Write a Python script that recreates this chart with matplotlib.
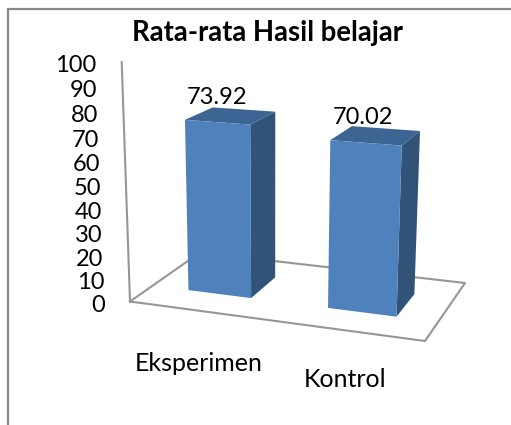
import numpy as np
import matplotlib
matplotlib.use("Agg")
import matplotlib.pyplot as plt
from matplotlib.patches import Polygon

plt.rcParams['font.family'] = ['Lato', 'DejaVu Sans']

categories = ["Eksperimen", "Kontrol"]
values = [73.92, 70.02]
value_labels = ["73.92", "70.02"]
ticks = [0, 10, 20, 30, 40, 50, 60, 70, 80, 90, 100]
title = "Rata-rata Hasil belajar"

W, H = 511, 425

## floor corners in pixels: front-left, front-right, back-right, back-left
floor_px = [(130, 301.5), (425, 341), (465, 283), (200, 252.5)]
floor_uv = [(0, 0), (2, 0), (2, 1), (0, 1)]
wall_top = (120.5, 62)
vanish = (272, 4400)

## floor homography
A = []
b = []
for (x, y), (u, v) in zip(floor_px, floor_uv):
    A.append([u, v, 1, 0, 0, 0, -u * x, -v * x])
    A.append([0, 0, 0, u, v, 1, -u * y, -v * y])
    b += [x, y]
h = np.linalg.solve(np.array(A, float), np.array(b, float))
M = np.array([[h[0], h[1], h[2]], [h[3], h[4], h[5]], [h[6], h[7], 1.0]])

## height term, scaled so that value 100 lands on the top of the wall
vp = np.array([vanish[0], vanish[1], 1.0])
c = (wall_top[1] - floor_px[0][1]) / (100 * (vp[1] - wall_top[1]))


def project(u, v, val=0):
    p = M @ np.array([u, v, 1.0]) + val * c * vp
    return p[0] / p[2], p[1] / p[2]


fig = plt.figure(figsize=(W / 100, H / 100), dpi=100)
ax = fig.add_axes([0, 0, 1, 1])
ax.set_xlim(0, W)
ax.set_ylim(H, 0)
ax.axis("off")

## chart frame, open on the right
ax.plot([8, 8, W], [H, 9, 9], color="#868686", lw=1.6, solid_joinstyle="miter")

## floor and wall lines
line_color = "#969696"
floor_loop = [project(u, v) for u, v in floor_uv] + [project(0, 0)]
ax.plot(*zip(*floor_loop), color=line_color, lw=1.5, zorder=1)
ax.plot(*zip(project(0, 0), project(0, 0, 100)), color=line_color, lw=1.5, zorder=1)

for t in ticks:
    x, y = project(0, 0, t)
    ax.text(x - 25, y + 3.5, str(t), ha="right", va="center", fontsize=17, color="black")

## bars
bar_w = 0.46
v0, v1 = 0.3, 0.7
front_c, side_c, top_c = "#4F81BD", "#315378", "#3D6594"
for i, val in enumerate(values):
    u0 = i + 0.5 - bar_w / 2
    u1 = i + 0.5 + bar_w / 2
    front = [project(u0, v0), project(u1, v0), project(u1, v0, val), project(u0, v0, val)]
    side = [project(u1, v0), project(u1, v1), project(u1, v1, val), project(u1, v0, val)]
    top = [project(u0, v0, val), project(u1, v0, val), project(u1, v1, val), project(u0, v1, val)]
    ax.add_patch(Polygon(side, closed=True, fc=side_c, ec="none", zorder=3))
    ax.add_patch(Polygon(top, closed=True, fc=top_c, ec="none", zorder=3))
    ax.add_patch(Polygon(front, closed=True, fc=front_c, ec="none", zorder=4))
    tx, ty = project(i + 0.5, v1, val)
    ax.text(tx - 27 + i * 4, ty - 12.5 + i, value_labels[i], ha="center", va="center", fontsize=17, color="black", zorder=5)

## category labels
for i, name in enumerate(categories):
    x, y = project(i + 0.5, 0)
    ax.text(x - i * 0.5, y + 53 - i * 4, name, ha="center", va="center", fontsize=18, color="black")

ax.text(267, 33, title, ha="center", va="center", fontsize=19.8, fontweight="bold", color="black")

fig.savefig("out.png", dpi=100)
